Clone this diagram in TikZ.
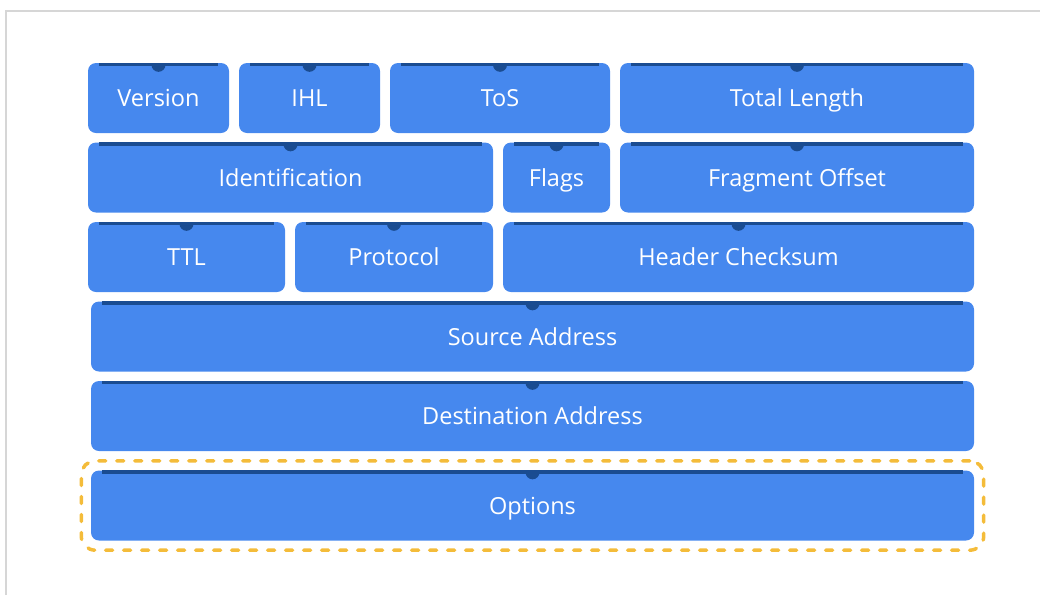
\documentclass[tikz,border=0pt]{standalone}
\usepackage{fontspec}
\setmainfont{Open Sans}
\usetikzlibrary{fit}
\definecolor{fieldblue}{HTML}{4688EE}
\definecolor{stripblue}{HTML}{1A4C91}
\definecolor{optyellow}{HTML}{F4BC3A}
\definecolor{framegray}{HTML}{D6D6D6}
\begin{document}
\begin{tikzpicture}[x=1pt,y=-1pt,
    field/.style={fill=fieldblue, text=white, rounded corners=8pt, inner sep=0pt,
        minimum height=70pt, text height=19pt, text depth=2pt,
        font=\fontsize{23.5}{28}\selectfont},
    strip/.style={fill=stripblue},
    optframe/.style={draw=optyellow, line width=3.5pt, dash pattern=on 7pt off 11pt,
        line cap=round, rounded corners=14pt, inner sep=9.5pt}]
    \useasboundingbox (0,0) rectangle (1040,595);
    \draw[framegray, line width=2pt] (6,595) -- (6,11) -- (1040,11);
    \node[field, minimum width=141] (version) at (158.5,98) {Version};
    \node[field, minimum width=141] (ihl) at (309.5,98) {IHL};
    \node[field, minimum width=220] (tos) at (500,98) {ToS};
    \node[field, minimum width=354] (totlen) at (797,98) {Total Length};
    \node[field, minimum width=405] (ident) at (290.5,177.5) {Identification};
    \node[field, minimum width=107] (flags) at (556.5,177.5) {Flags};
    \node[field, minimum width=354] (fragoff) at (797,177.5) {Fragment Offset};
    \node[field, minimum width=197] (ttl) at (186.5,257) {TTL};
    \node[field, minimum width=198] (proto) at (394,257) {Protocol};
    \node[field, minimum width=471] (hdrsum) at (738.5,257) {Header Checksum};
    \node[field, minimum width=883] (srcaddr) at (532.5,336.5) {Source Address};
    \node[field, minimum width=883] (dstaddr) at (532.5,416) {Destination Address};
    \node[field, minimum width=883] (options) at (532.5,505.5) {Options};
    \foreach \n in {version,ihl,tos,totlen,ident,flags,fragoff,ttl,proto,hdrsum,srcaddr,dstaddr,options} {
        \fill[strip] ([xshift=11pt]\n.north west) rectangle ([xshift=-11pt,yshift=-3.5pt]\n.north east);
        \fill[strip] ([xshift=-7pt,yshift=-2pt]\n.north) arc[start angle=180, end angle=360, radius=7pt] -- cycle;
    }
    \node[optframe, fit=(options)] (optbox) {};
\end{tikzpicture}
\end{document}
